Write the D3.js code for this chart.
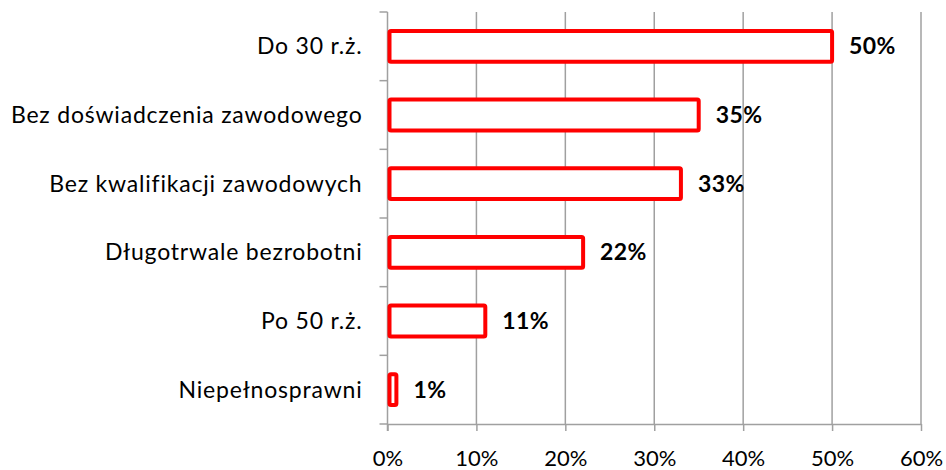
<!DOCTYPE html>
<html>
<head>
<meta charset="utf-8">
<script src="https://cdn.jsdelivr.net/npm/d3@7"></script>
<style>
  body { margin: 0; background: #fff; }
  text { font-family: Lato, "Open Sans", sans-serif; }
</style>
</head>
<body>
<div id="chart"></div>
<script>
// categories top to bottom
const categories = ['Do 30 r.ż.', 'Bez doświadczenia zawodowego', 'Bez kwalifikacji zawodowych',
                    'Długotrwale bezrobotni', 'Po 50 r.ż.', 'Niepełnosprawni'];
const values = [50, 35, 33, 22, 11, 1];
const xTicks = [0, 10, 20, 30, 40, 50, 60];

const width = 946, height = 470;
const margin = { top: 12, right: 25, bottom: 46, left: 387.5 };
const chartWidth = width - margin.left - margin.right;
const chartHeight = height - margin.top - margin.bottom;

const svg = d3.select('#chart').append('svg')
    .attr('width', width)
    .attr('height', height);

const chart = svg.append('g')
    .attr('transform', `translate(${margin.left},${margin.top})`);

const xScale = d3.scaleLinear().domain([0, 60]).range([0, chartWidth]);
const yScale = d3.scaleBand().domain(categories).range([0, chartHeight])
    .paddingInner(0.55).paddingOuter(0.275);

// gridlines
chart.selectAll('.grid')
    .data(xTicks.slice(1))
    .enter().append('line')
    .attr('x1', d => xScale(d)).attr('x2', d => xScale(d))
    .attr('y1', 0).attr('y2', chartHeight)
    .attr('stroke', '#a0a0a0').attr('stroke-width', 1.5);

// x axis
const xAxis = d3.axisBottom(xScale).tickValues(xTicks).tickSize(7).tickSizeOuter(0)
    .tickFormat(d => d + '%');
const gx = chart.append('g')
    .attr('transform', `translate(0,${chartHeight})`)
    .call(xAxis);
gx.select('.domain').attr('stroke', '#a0a0a0').attr('stroke-width', 1.5);
gx.selectAll('.tick line').attr('stroke', '#a0a0a0').attr('stroke-width', 1.5);
gx.selectAll('.tick text').attr('dy', 0).attr('y', 42)
    .style('font-size', '22px').attr('fill', '#000');

// y axis with ticks at band boundaries
const step = yScale.step();
const bounds = d3.range(categories.length + 1).map(i => i * step);
chart.append('line')
    .attr('x1', 0).attr('x2', 0).attr('y1', 0).attr('y2', chartHeight + 7)
    .attr('stroke', '#a0a0a0').attr('stroke-width', 1.5);
chart.selectAll('.ytick')
    .data(bounds)
    .enter().append('line')
    .attr('x1', -8).attr('x2', 0)
    .attr('y1', d => d).attr('y2', d => d)
    .attr('stroke', '#a0a0a0').attr('stroke-width', 1.5);

chart.selectAll('.cat-label')
    .data(categories)
    .enter().append('text')
    .attr('x', -25)
    .attr('y', d => yScale(d) + yScale.bandwidth() / 2)
    .attr('dy', '0.35em')
    .attr('text-anchor', 'end')
    .style('font-size', '23px')
    .style('letter-spacing', '0.8px')
    .attr('fill', '#000')
    .text(d => d);

// bars
chart.selectAll('.bar')
    .data(values)
    .enter().append('rect')
    .attr('x', 2)
    .attr('y', (d, i) => yScale(categories[i]))
    .attr('width', d => xScale(d) - 2)
    .attr('height', yScale.bandwidth())
    .attr('rx', 1.5)
    .attr('fill', '#fff')
    .attr('stroke', '#ff0000')
    .attr('stroke-width', 4);

chart.selectAll('.bar-label')
    .data(values)
    .enter().append('text')
    .attr('x', d => xScale(d) + 17)
    .attr('y', (d, i) => yScale(categories[i]) + yScale.bandwidth() / 2)
    .attr('dy', '0.35em')
    .style('font-size', '23px')
    .style('letter-spacing', '0.4px')
    .style('font-weight', 'bold')
    .attr('fill', '#000')
    .text(d => d + '%');
</script>
</body>
</html>
